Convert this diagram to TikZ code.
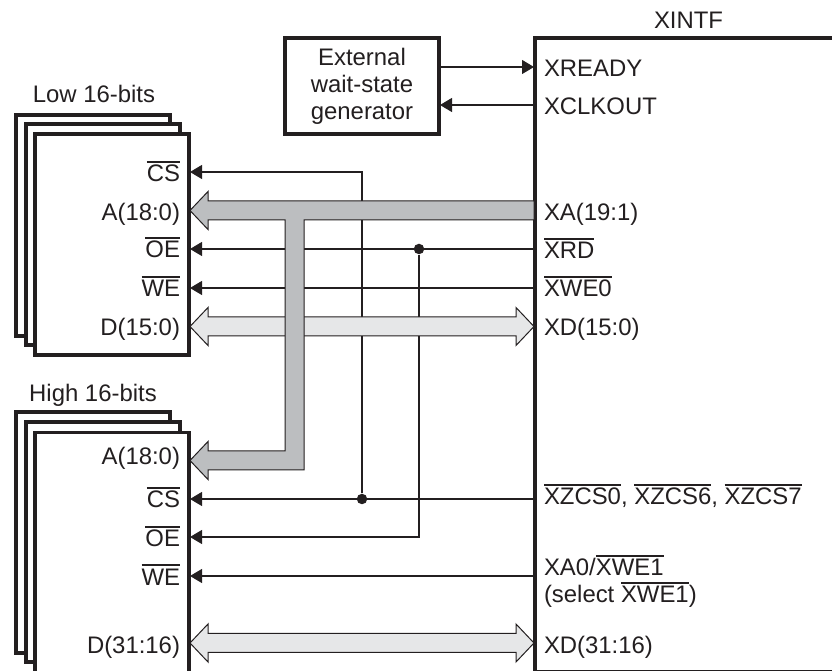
\documentclass[tikz,border=0pt]{standalone}
\usepackage{fontspec}
\setmainfont{Liberation Sans}
\usetikzlibrary{arrows.meta, calc}
\definecolor{inkdark}{RGB}{35, 31, 32}
\definecolor{busgray}{RGB}{188, 190, 192}
\definecolor{buslight}{RGB}{230, 231, 232}
\newcommand{\ovl}[1]{\setbox0=\hbox{#1}\hbox{\rlap{\vrule width\wd0 height 4.15mm depth -3.85mm}\box0}}
\tikzset{
  chip/.style      = {rectangle, draw=inkdark, fill=white, line width=0.68mm, inner sep=0pt, outer sep=0pt, minimum width=30.8mm},
  txtlbl/.style    = {inner sep=0pt, outer sep=0pt, text=inkdark, font=\fontsize{13.6}{15.4}\selectfont},
  pinleft/.style   = {txtlbl, anchor=base east},
  pinright/.style  = {txtlbl, anchor=base west},
  sig/.style       = {-{Triangle[length=2.4mm, width=2.8mm]}, draw=inkdark, fill=none, line width=0.22mm},
  junction/.style  = {circle, fill=inkdark, inner sep=0pt, minimum size=2.1mm},
  busaddr/.style   = {draw=inkdark, fill=busgray, line width=0.2mm, line join=miter},
  busdata/.style   = {draw=inkdark, fill=buslight, line width=0.2mm, line join=miter},
}
% bus with a head at both ends, between two named points
\newcommand{\busboth}[2]{
  \draw[busdata] (#1) -- ++(18,-19) -- ++(0,9.5) -- ($(#2)+(-18,-9.5)$) -- ++(0,-9.5) -- (#2)
    -- ++(-18,19) -- ++(0,-9.5) -- ($(#1)+(18,9.5)$) -- ++(0,9.5) -- cycle;
}
\begin{document}
\begin{tikzpicture}[x=0.2mm, y=-0.2mm]
  \useasboundingbox (0,0) rectangle (832,671);

  % memory stacks
  \node[chip, minimum height=44.2mm] (low1) at (93,225.5) {};
  \node[chip, minimum height=44.2mm] (low2) at (103,234.5) {};
  \node[chip, minimum height=44.2mm] (low3) at (112,244.5) {};
  \node[chip, minimum height=48.2mm] (high1) at (93,532.5) {};
  \node[chip, minimum height=48mm] (high2) at (103,542) {};
  \node[chip, minimum height=48mm] (high3) at (112,552.5) {};
  \node[chip, minimum height=19.2mm, align=center, text=inkdark, font=\fontsize{13.6}{15.4}\selectfont] (gen) at (362,86) {External\\wait-state\\generator};
  \node[chip, minimum width=61mm, minimum height=126.8mm] (xintf) at (687.5,355) {};

  \node[txtlbl, anchor=base] (lowname) at (94,103) {Low 16-bits};
  \node[txtlbl, anchor=base] (highname) at (93,402) {High 16-bits};
  \node[txtlbl, anchor=base west] (xintfname) at (654,29) {XINTF};

  % pins on the chips
  \coordinate (lcs) at (190,172);
  \coordinate (la) at (190,210.5);
  \coordinate (loe) at (190,249);
  \coordinate (lwe) at (190,288);
  \coordinate (ld) at (190,326.5);
  \coordinate (ha) at (190,460.5);
  \coordinate (hcs) at (190,499);
  \coordinate (hoe) at (190,537);
  \coordinate (hwe) at (190,576);
  \coordinate (hd) at (190,643);
  \coordinate (xa) at (534,210.5);
  \coordinate (xd) at (534,326.5);
  \coordinate (xdh) at (534,643);
  \coordinate (tee) at (294.5,210.5);
  \coordinate (ready) at (534,67);
  \coordinate (clk) at (440,105);

  \node[junction] (jrd) at (419,249) {};
  \node[junction] (jcs) at (362,499) {};

  % single lines go under the buses
  \draw[sig] (gen.east |- ready) -- (ready);
  \draw[sig] (xintf.west |- clk) -- (clk);
  \draw[sig] (jcs) |- (lcs);
  \draw[sig] (xintf.west |- loe) -- (loe);
  \draw[sig] (xintf.west |- lwe) -- (lwe);
  \draw[sig] (jrd) |- (hoe);
  \draw[sig] (xintf.west |- hcs) -- (hcs);
  \draw[sig] (xintf.west |- hwe) -- (hwe);

  \busboth{ld}{xd}
  \busboth{hd}{xdh}
  \draw[busaddr] (la) -- ++(18,-19) -- ++(0,9.5) -- ($(xa)+(0,-9.5)$) -- ($(xa)+(0,9.5)$)
    -- ($(tee)+(9.5,9.5)$) -- ($(tee |- ha)+(9.5,9.5)$) -- ($(ha)+(18,9.5)$) -- ++(0,9.5)
    -- (ha) -- ++(18,-19) -- ++(0,9.5) -- ($(tee |- ha)+(-9.5,-9.5)$) -- ($(tee)+(-9.5,9.5)$)
    -- ($(la)+(18,9.5)$) -- ++(0,9.5) -- cycle;

  % left labels
  \node[pinleft] (tlcs) at (180,182) {\ovl{CS}};
  \node[pinleft] (tla) at (180,221) {A(18:0)};
  \node[pinleft] (tloe) at (180,258) {\ovl{OE}};
  \node[pinleft] (tlwe) at (180,297) {\ovl{WE}};
  \node[pinleft] (tld) at (180,336) {D(15:0)};
  \node[pinleft] (tha) at (180,465) {A(18:0)};
  \node[pinleft] (thcs) at (180,508) {\ovl{CS}};
  \node[pinleft] (thoe) at (180,547) {\ovl{OE}};
  \node[pinleft] (thwe) at (180,585) {\ovl{WE}};
  \node[pinleft] (thd) at (180,653) {D(31:16)};

  % right labels
  \node[pinright] (txready) at (544,77) {XREADY};
  \node[pinright] (txclk) at (544,115) {XCLKOUT};
  \node[pinright] (txa) at (544,221) {XA(19:1)};
  \node[pinright] (txrd) at (544,259) {\ovl{XRD}};
  \node[pinright] (txwe) at (544,297) {\ovl{XWE0}};
  \node[pinright] (txd) at (544,336) {XD(15:0)};
  \node[pinright] (txzcs) at (544,505) {\ovl{XZCS0}, \ovl{XZCS6}, \ovl{XZCS7}};
  \node[pinright] (txa0) at (544,576) {XA0/\ovl{XWE1}};
  \node[pinright] (txsel) at (544,603) {(select \ovl{XWE1})};
  \node[pinright] (txdh) at (544,653) {XD(31:16)};
\end{tikzpicture}
\end{document}
